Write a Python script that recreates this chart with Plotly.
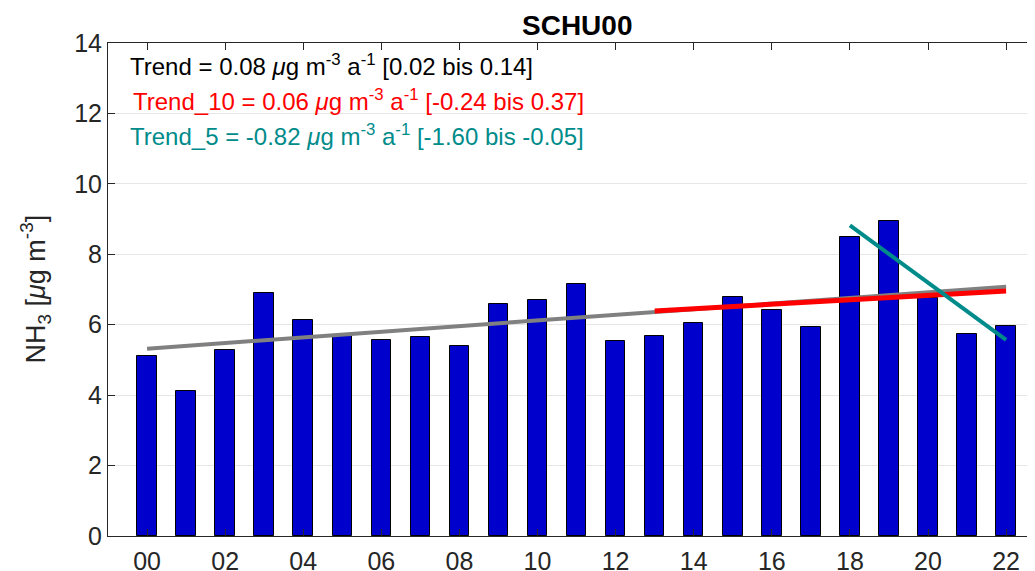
import plotly.graph_objects as go

# Jahresmittel NH3 an SCHU00
years = list(range(0, 23))
year_labels = [f"{y:02d}" for y in years]
nh3 = [5.11, 4.13, 5.27, 6.90, 6.14, 5.68, 5.57, 5.64, 5.39, 6.60, 6.70,
       7.17, 5.55, 5.68, 6.06, 6.79, 6.42, 5.93, 8.49, 8.95, 6.75, 5.74, 5.97]

# Trendlinien (Endpunkte)
trend_x = [0, 22]
trend_y = [5.32, 7.08]
trend10_x = [13, 22]
trend10_y = [6.39, 6.96]
trend5_x = [18, 22]
trend5_y = [8.82, 5.57]

tick_vals = list(range(0, 23, 2))
tick_text = [f"{y:02d}" for y in tick_vals]

FONT = "Liberation Sans, Arial, sans-serif"
AXCOL = "#262626"
TEAL = "#008B8B"

fig = go.Figure()
fig.add_trace(go.Bar(x=years, y=nh3, width=0.5,
                     marker=dict(color="#0000CD", line=dict(color="black", width=1)),
                     showlegend=False))
fig.add_trace(go.Scatter(x=trend_x, y=trend_y, mode="lines",
                         line=dict(color="#808080", width=4), showlegend=False))
fig.add_trace(go.Scatter(x=trend10_x, y=trend10_y, mode="lines",
                         line=dict(color="#FF0000", width=5), showlegend=False))
fig.add_trace(go.Scatter(x=trend5_x, y=trend5_y, mode="lines",
                         line=dict(color=TEAL, width=4), showlegend=False))

texts = [
    ("Trend = 0.08 <i>μ</i>g m<sup>-3</sup> a<sup>-1</sup> [0.02 bis 0.14]", "black", -0.5, 13.38),
    ("Trend_10 = 0.06 <i>μ</i>g m<sup>-3</sup> a<sup>-1</sup> [-0.24 bis 0.37]", "#FF0000", -0.41, 12.39),
    ("Trend_5 = -0.82 <i>μ</i>g m<sup>-3</sup> a<sup>-1</sup> [-1.60 bis -0.05]", TEAL, -0.5, 11.39),
]
for txt, col, x, y in texts:
    fig.add_annotation(x=x, y=y, xref="x", yref="y", text=txt, showarrow=False,
                       xanchor="left", yanchor="middle",
                       font=dict(family=FONT, size=24, color=col))

fig.add_annotation(x=11, y=1, xref="x", yref="paper", yshift=18, text="<b>SCHU00</b>",
                   showarrow=False, xanchor="center", yanchor="middle",
                   font=dict(family=FONT, size=28, color="black"))

fig.add_annotation(x=0, y=0.5, xref="paper", yref="paper", xshift=-73,
                   text="NH<sub>3</sub> [<i>μ</i>g m<sup>-3</sup>]", textangle=-90,
                   showarrow=False, xanchor="center", yanchor="middle",
                   font=dict(family=FONT, size=27, color=AXCOL))

fig.update_xaxes(range=[-1, 22.74], tickvals=tick_vals, ticktext=tick_text,
                 ticks="inside", ticklen=7, tickcolor=AXCOL, showline=True,
                 linecolor=AXCOL, linewidth=1, mirror="ticks", showgrid=False,
                 tickfont=dict(family=FONT, size=25, color=AXCOL), zeroline=False,
                 ticklabelstandoff=3, automargin=False)
fig.update_yaxes(range=[0, 14], dtick=2, ticks="inside", ticklen=7, tickcolor=AXCOL,
                 showline=True, linecolor=AXCOL, linewidth=1, showgrid=True,
                 gridcolor="#e6e6e6", gridwidth=1, zeroline=False,
                 tickfont=dict(family=FONT, size=25, color=AXCOL), automargin=False)

# die Seite hat 8 px Rand, daher Ränder entsprechend verschoben
fig.update_layout(width=1035, height=571, plot_bgcolor="white", paper_bgcolor="white",
                  margin=dict(l=100, r=8, t=35, b=43), bargap=0)

fig.write_html("out.html")
